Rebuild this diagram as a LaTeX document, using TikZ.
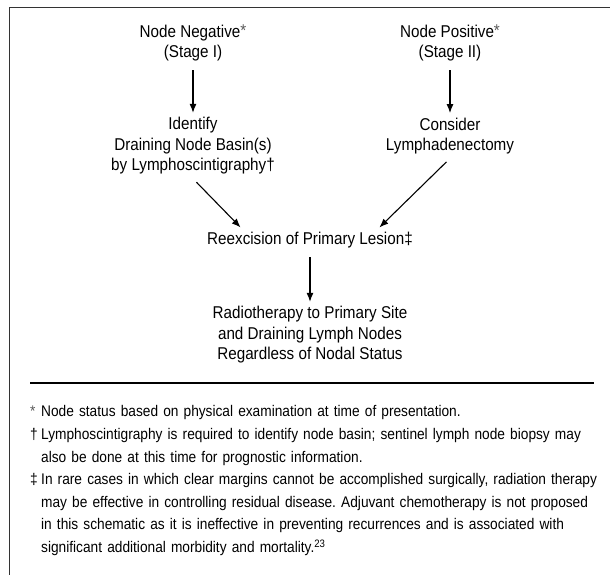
\documentclass[tikz,border=0pt]{standalone}
\usepackage{fontspec}
\setmainfont{Liberation Sans}[FakeStretch=0.89]
\usepackage{tikz}
\usetikzlibrary{arrows.meta}

\newcommand{\starmark}{\textcolor{black!65}{\raisebox{0.5pt}{*}}}
\newcommand{\noteitem}[2]{\par\hangindent=11pt\hangafter=1\noindent\makebox[11pt][l]{#1}#2\par}

\begin{document}
\begin{tikzpicture}[x=1pt,y=-1pt]
\tikzstyle{stage} = [align=center, inner sep=4pt, font=\fontsize{17.1}{20.5}\selectfont]
\tikzstyle{flow} = [-{Latex[length=9pt,width=7pt]}, line width=1.1pt, shorten <=5pt, shorten >=0.5pt]
\tikzstyle{note} = [text width=590pt, align=left, inner sep=0pt, font=\fontsize{15.4}{22.6}\selectfont]
\useasboundingbox (0,0) rectangle (610,575);
%frame and rule
\draw[line width=1.5pt, black!80] (610,7.5) -- (9.5,7.5) -- (9.5,575);
\draw[line width=1.5pt] (30,383) -- (594,383);
%flow chart
\node[stage] (neg) at (193,43) {Node Negative\starmark\\(Stage I)};
\node[stage] (pos) at (450,43) {Node Positive\starmark\\(Stage II)};
\node[stage] (ident) at (193,146) {Identify\\Draining Node Basin(s)\\by Lymphoscintigraphy†};
\node[stage] (consider) at (450,136) {Consider\\Lymphadenectomy};
\node[stage] (reex) at (310,240) {Reexcision of Primary Lesion‡};
\node[stage] (radio) at (310,335) {Radiotherapy to Primary Site\\and Draining Lymph Nodes\\Regardless of Nodal Status};
\draw[flow] (neg) -- (ident);
\draw[flow] (pos) -- (consider);
\draw[flow] (ident.south) -- (reex.170);
\draw[flow] (consider.south) -- (reex.10);
\draw[flow] (reex) -- (radio);
%footnotes
\node[note, anchor=north west] (notes) at (30,394) {%
\hyphenpenalty=10000\exhyphenpenalty=10000\frenchspacing
\noteitem{\starmark}{Node status based on physical examination at time of presentation.}%
\noteitem{†}{Lymphoscintigraphy is required to identify node basin; sentinel lymph node biopsy may\newline also be done at this time for prognostic information.}%
\noteitem{‡}{In rare cases in which clear margins cannot be accomplished surgically, radiation therapy\newline may be effective in controlling residual disease. Adjuvant chemotherapy is not proposed\newline in this schematic as it is ineffective in preventing recurrences and is associated with\newline significant additional morbidity and mortality.\textsuperscript{23}}};
\end{tikzpicture}
\end{document}
